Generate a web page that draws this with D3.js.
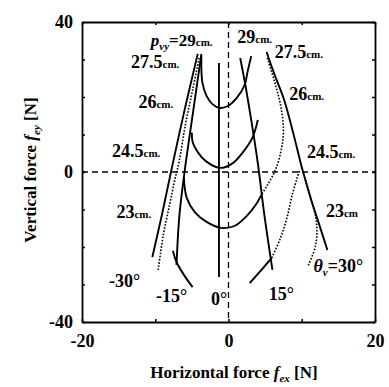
<!DOCTYPE html>
<html>
<head>
<meta charset="utf-8">
<script src="https://cdn.jsdelivr.net/npm/d3@7"></script>
<style>
  body { margin: 0; background: #fff; }
  svg { display: block; }
  text { font-family: "Liberation Serif", "Times New Roman", serif; }
</style>
</head>
<body>
<svg id="chart"></svg>
<script>
// axis ticks
const xTicks = [-20, -10, 0, 10, 20];
const yTicks = [-40, -30, -20, -10, 0, 10, 20, 30, 40];
const xLabelled = [-20, 0, 20];
const yLabelled = [-40, 0, 40];

// constant-angle lines (solid), [fex, fey]
const thetaM30 = [[-4.2, 31.5], [-6.0, 16.5], [-7.8, 0.5], [-9.1, -11.5], [-10.4, -22.7]];
const thetaM15 = [[-3.7, 31.5], [-4.8, 16.5], [-6.0, 0.0], [-6.7, -11.5], [-7.1, -24.8]];
const theta0 = [[-1.3, 29.1], [-1.3, -28.0]];
const theta15 = [[1.6, 30.4], [2.3, 23.2], [3.1, 13.9], [4.0, 2.4], [4.9, -11.5], [6.0, -26.1]];
const theta30 = [[5.2, 32.0], [6.3, 25.9], [7.6, 19.2], [8.9, 9.9], [10.0, 1.3], [11.3, -7.5], [12.4, -14.1], [13.5, -20.8]];

// U shaped curves (solid)
const uTop = [[-3.7, 30.9], [-3.7, 27.2], [-3.55, 23.7], [-3.0, 20.3], [-2.2, 18.1], [-1.2, 17.1],
  [-0.1, 17.6], [1.1, 19.7], [2.2, 23.2], [2.6, 26.7], [3.1, 30.9]];
const uMid = [[-5.0, 10.5], [-4.9, 8.0], [-4.2, 5.3], [-3.1, 2.9], [-1.2, 1.1], [0.4, 2.1],
  [1.9, 5.1], [3.3, 9.3], [4.0, 13.9]];
const uLow = [[-6.1, -1.5], [-5.7, -6.9], [-4.6, -10.7], [-3.0, -13.3], [-1.0, -14.9], [0.8, -14.4],
  [2.5, -11.7], [3.7, -8.8], [4.5, -6.1]];
const lowLeft = [[-4.9, -30.7], [-6.0, -27.7], [-7.1, -24.0], [-7.6, -21.0]];
const lowRight = [[2.9, -29.6], [4.5, -26.1], [5.9, -22.9]];

// dotted curves
const dotLeft = [[-4.0, 30.4], [-4.9, 21.9], [-5.9, 12.5], [-6.7, 3.2], [-7.4, -2.7], [-8.05, -8.8], [-8.9, -16.8], [-9.6, -26.1]];
const dotRight = [[5.3, 30.4], [6.3, 24.0], [7.1, 17.9], [7.5, 11.2], [7.2, 5.9], [6.4, 0.5], [5.3, -3.5], [4.5, -6.1]];
const dotLowRight = [[5.9, -22.9], [7.0, -18.1], [7.9, -12.8], [8.7, -6.1], [9.7, 0.5]];
const dotOuterRight = [[10.0, 1.1], [11.1, -6.1], [12.0, -13.3], [11.9, -19.5], [10.8, -25.3]];

// annotations: [number, unit, fex, fey]
const heightLabels = [
  ['29', 'cm.', 1.2, 34.4],
  ['27.5', 'cm.', -13.3, 27.7],
  ['27.5', 'cm.', 6.3, 30.4],
  ['26', 'cm.', -12.3, 17.1],
  ['26', 'cm.', 8.3, 19.2],
  ['24.5', 'cm.', -15.9, 4.0],
  ['24.5', 'cm.', 10.7, 3.7],
  ['23', 'cm.', -15.3, -12.3],
  ['23', 'cm', 13.3, -12.0]
];
const angleLabels = [['-30°', -16.3, -30.7], ['-15°', -9.9, -34.7], ['0°', -2.4, -35.5], ['15°', 5.5, -34.1]];

const width = 389, height = 387;
const plot = { left: 82, right: 375, top: 22, bottom: 322 };
const serif = '"Liberation Serif", "Times New Roman", serif';

const svg = d3.select('#chart').attr('width', width).attr('height', height);

const x = d3.scaleLinear().domain([-20, 20]).range([plot.left, plot.right]);
const y = d3.scaleLinear().domain([-40, 40]).range([plot.bottom, plot.top]);

// zero lines
svg.append('line')
  .attr('x1', x(0)).attr('x2', x(0)).attr('y1', y(40)).attr('y2', y(-40))
  .attr('stroke', '#000').attr('stroke-width', 1.3).attr('stroke-dasharray', '6,4');
svg.append('line')
  .attr('x1', x(-20)).attr('x2', x(20)).attr('y1', y(0)).attr('y2', y(0))
  .attr('stroke', '#000').attr('stroke-width', 1.3).attr('stroke-dasharray', '6,4');

// axes (inward ticks on all sides)
const fmtX = (d) => (xLabelled.includes(d) ? d : '');
const fmtY = (d) => (yLabelled.includes(d) ? d : '');
const axes = [
  svg.append('g').attr('transform', `translate(0,${plot.bottom})`)
    .call(d3.axisBottom(x).tickValues(xTicks).tickSizeInner(-3).tickSizeOuter(0).tickPadding(12).tickFormat(fmtX)),
  svg.append('g').attr('transform', `translate(0,${plot.top})`)
    .call(d3.axisTop(x).tickValues(xTicks).tickSizeInner(-3).tickSizeOuter(0).tickFormat('')),
  svg.append('g').attr('transform', `translate(${plot.left},0)`)
    .call(d3.axisLeft(y).tickValues(yTicks).tickSizeInner(-3).tickSizeOuter(0).tickPadding(9).tickFormat(fmtY)),
  svg.append('g').attr('transform', `translate(${plot.right},0)`)
    .call(d3.axisRight(y).tickValues(yTicks).tickSizeInner(-3).tickSizeOuter(0).tickFormat(''))
];
axes.forEach((g) => {
  g.select('.domain').attr('stroke-width', 1.8);
  g.selectAll('.tick line').attr('stroke-width', 1.5);
  g.selectAll('text')
    .attr('fill', '#000')
    .attr('font-family', serif)
    .attr('font-size', 18)
    .attr('font-weight', 'bold');
});

// curves
const line = d3.line().x((d) => x(d[0])).y((d) => y(d[1])).curve(d3.curveCatmullRom);
const solid = [thetaM30, thetaM15, theta0, theta15, theta30, uTop, uMid, uLow, lowLeft, lowRight];
const dotted = [dotLeft, dotRight, dotLowRight, dotOuterRight];

svg.append('g').selectAll('path').data(solid).join('path')
  .attr('d', line).attr('fill', 'none').attr('stroke', '#000').attr('stroke-width', 1.9);
svg.append('g').selectAll('path').data(dotted).join('path')
  .attr('d', line).attr('fill', 'none').attr('stroke', '#000').attr('stroke-width', 1.6)
  .attr('stroke-dasharray', '1.6,1.6');

// labels
const ann = svg.append('g').attr('fill', '#000').attr('font-weight', 'bold');

// p_vy = 29 cm.
const pLab = ann.append('text').attr('x', x(-10.6)).attr('y', y(33.6)).attr('font-size', 17);
pLab.append('tspan').attr('font-style', 'italic').text('p');
pLab.append('tspan').attr('font-style', 'italic').attr('font-size', 11).attr('dy', 4).text('vy');
pLab.append('tspan').attr('dy', -4).text('=29');
pLab.append('tspan').attr('font-size', 11).text('cm.');

heightLabels.forEach(([num, unit, fx, fy]) => {
  const t = ann.append('text').attr('x', x(fx)).attr('y', y(fy)).attr('font-size', 18);
  t.append('tspan').text(num);
  t.append('tspan').attr('font-size', 11).text(unit);
});

angleLabels.forEach(([txt, fx, fy]) => {
  ann.append('text').attr('x', x(fx)).attr('y', y(fy)).attr('font-size', 18).text(txt);
});

const thLab = ann.append('text').attr('x', x(11.6)).attr('y', y(-26.7)).attr('font-size', 18);
thLab.append('tspan').attr('font-style', 'italic').text('θ');
thLab.append('tspan').attr('font-style', 'italic').attr('font-size', 11).attr('dy', 4).text('v');
thLab.append('tspan').attr('dy', -4).text('=30°');

// axis titles
const xt = svg.append('text').attr('font-size', 17).attr('font-weight', 'bold')
  .attr('text-anchor', 'middle').attr('x', 234).attr('y', 378);
xt.append('tspan').text('Horizontal force ');
xt.append('tspan').attr('font-style', 'italic').text('f');
xt.append('tspan').attr('font-style', 'italic').attr('font-size', 11).attr('dy', 4).text('ex');
xt.append('tspan').attr('dy', -4).text(' [N]');

const yt = svg.append('text').attr('font-size', 17).attr('font-weight', 'bold')
  .attr('text-anchor', 'middle').attr('transform', 'translate(36,170) rotate(-90)');
yt.append('tspan').text('Vertical force ');
yt.append('tspan').attr('font-style', 'italic').text('f');
yt.append('tspan').attr('font-style', 'italic').attr('font-size', 11).attr('dy', 4).text('ey');
yt.append('tspan').attr('dy', -4).text(' [N]');
</script>
</body>
</html>
